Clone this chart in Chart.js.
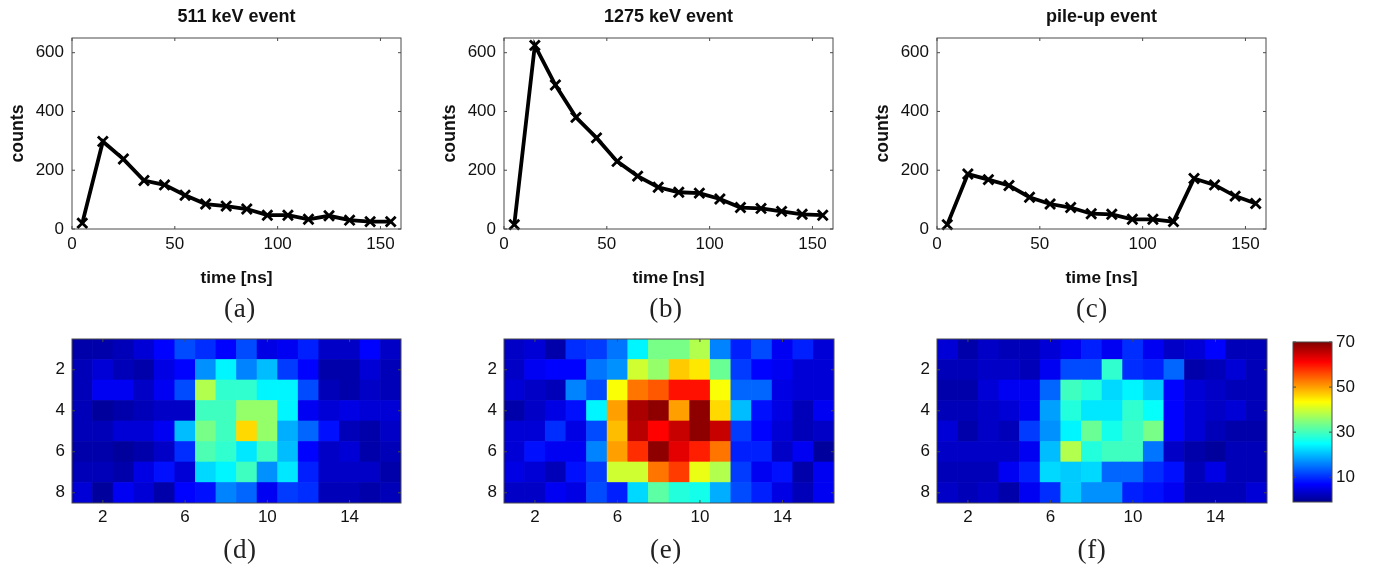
<!DOCTYPE html>
<html>
<head>
<meta charset="utf-8">
<title>event pulses and light maps</title>
<script src="https://cdn.jsdelivr.net/npm/chart.js@4"></script>
<style>
    html, body { margin: 0; padding: 0; background: #fff; }
    body { position: relative; width: 1373px; height: 567px; overflow: hidden; }
    canvas { position: absolute; filter: blur(0.5px); }
    .caption {
        position: absolute;
        transform: translate(-50%, -50%);
        font: 27px "Liberation Serif", serif;
        letter-spacing: 0.6px;
        color: #222;
    }
</style>
</head>
<body>
<script>
// pulse shapes
const timeNs = [5, 15, 25, 35, 45, 55, 65, 75, 85, 95, 105, 115, 125, 135, 145, 155];
const counts511 = [20, 298, 238, 165, 150, 115, 85, 78, 68, 47, 47, 33, 45, 30, 25, 25];
const counts1275 = [15, 625, 490, 380, 310, 230, 180, 142, 125, 122, 102, 73, 70, 60, 50, 47];
const countsPileUp = [15, 187, 168, 148, 108, 85, 73, 52, 50, 33, 33, 25, 172, 150, 112, 87];

// light maps, one row per line of the image (estimated from the jet colours)
const map511 = [
    [2, 2, 3, 5, 8, 13, 11, 8, 13, 6, 7, 10, 4, 4, 8, 4],
    [3, 5, 3, 2, 6, 8, 18, 25, 17, 21, 12, 8, 2, 2, 5, 3],
    [3, 7, 7, 4, 7, 13, 38, 29, 29, 25, 25, 13, 3, 2, 4, 3],
    [3, 1, 2, 3, 4, 4, 30, 30, 36, 36, 25, 7, 5, 6, 5, 5],
    [3, 3, 5, 5, 7, 21, 34, 30, 46, 36, 20, 15, 9, 3, 2, 4],
    [2, 2, 1, 2, 4, 11, 31, 29, 24, 30, 21, 8, 4, 5, 2, 3],
    [3, 3, 2, 6, 9, 5, 23, 25, 30, 18, 24, 10, 4, 4, 4, 2],
    [5, 1, 7, 5, 2, 8, 9, 17, 15, 7, 12, 11, 3, 3, 2, 3]
];
const map1275 = [
    [4, 5, 2, 11, 12, 16, 25, 34, 34, 38, 17, 10, 13, 7, 10, 5],
    [4, 7, 8, 8, 16, 18, 40, 36, 47, 45, 33, 12, 8, 7, 5, 5],
    [5, 4, 3, 17, 13, 43, 53, 55, 60, 60, 43, 15, 15, 6, 5, 5],
    [2, 4, 6, 9, 25, 50, 67, 69, 50, 69, 46, 21, 9, 6, 3, 7],
    [5, 5, 11, 6, 13, 48, 66, 61, 65, 69, 65, 12, 8, 5, 3, 4],
    [5, 9, 7, 7, 17, 50, 58, 69, 63, 59, 53, 10, 10, 4, 7, 1],
    [6, 5, 3, 9, 12, 40, 40, 53, 57, 42, 38, 12, 7, 9, 2, 7],
    [4, 4, 7, 6, 13, 10, 23, 32, 28, 27, 20, 13, 10, 6, 3, 7]
];
const mapPileUp = [
    [5, 2, 4, 3, 3, 5, 7, 10, 7, 11, 7, 4, 5, 8, 3, 3],
    [3, 3, 4, 4, 3, 7, 13, 13, 29, 11, 10, 15, 2, 3, 5, 3],
    [2, 2, 5, 7, 7, 15, 30, 28, 23, 25, 22, 8, 5, 4, 3, 3],
    [3, 3, 4, 5, 7, 19, 28, 24, 24, 29, 26, 8, 5, 4, 5, 3],
    [5, 2, 4, 3, 12, 18, 25, 33, 27, 30, 34, 8, 5, 3, 2, 2],
    [4, 4, 4, 4, 7, 21, 38, 28, 30, 30, 16, 4, 2, 1, 3, 3],
    [3, 3, 3, 7, 10, 23, 22, 23, 15, 15, 11, 9, 3, 6, 3, 3],
    [4, 3, 4, 2, 7, 11, 22, 18, 18, 10, 9, 7, 3, 3, 3, 5]
];

const pulseXTicks = [0, 50, 100, 150];
const pulseYTicks = [0, 200, 400, 600];
const mapXTicks = [2, 6, 10, 14];
const mapYTicks = [2, 4, 6, 8];
const colorTicks = [10, 30, 50, 70];
const colorRange = [-1, 70];
const jetStops = ['#00008f', '#0000ff', '#00ffff', '#7fff7f', '#ffff00', '#ff0000', '#7f0000'];
const jetOffsets = [0, 0.11, 0.365, 0.5, 0.625, 0.875, 1];

const textColor = '#111';
const frameColor = '#4a4a4a';

function jet(v) {
    const f = (v - colorRange[0]) / (colorRange[1] - colorRange[0]);
    const ch = c => Math.round(255 * Math.max(0, Math.min(1, 1.5 - Math.abs(4 * f - c))));
    return 'rgb(' + ch(3) + ',' + ch(2) + ',' + ch(1) + ')';
}

// MATLAB style box: frame plus short ticks pointing inward on all four sides
const matlabBox = {
    id: 'matlabBox',
    afterDraw(chart) {
        const { ctx, chartArea: a, scales } = chart;
        ctx.save();
        ctx.strokeStyle = frameColor;
        ctx.lineWidth = 1;
        ctx.beginPath();
        if (scales.x.options.display) {
            scales.x.ticks.forEach(t => {
                const px = scales.x.getPixelForValue(t.value);
                ctx.moveTo(px, a.bottom);
                ctx.lineTo(px, a.bottom - 3);
                ctx.moveTo(px, a.top);
                ctx.lineTo(px, a.top + 3);
            });
        }
        scales.y.ticks.forEach(t => {
            const py = scales.y.getPixelForValue(t.value);
            ctx.moveTo(a.left, py);
            ctx.lineTo(a.left + 3, py);
            ctx.moveTo(a.right, py);
            ctx.lineTo(a.right - 3, py);
        });
        ctx.stroke();
        ctx.strokeRect(a.left, a.top, a.right - a.left, a.bottom - a.top);
        ctx.restore();
    }
};

function addCanvas(left, top, width, height) {
    const c = document.createElement('canvas');
    c.width = width;
    c.height = height;
    c.style.left = left + 'px';
    c.style.top = top + 'px';
    c.style.width = width + 'px';
    c.style.height = height + 'px';
    document.body.appendChild(c);
    return c;
}

function addCaption(text, x, y) {
    const d = document.createElement('div');
    d.className = 'caption';
    d.textContent = text;
    d.style.left = x + 'px';
    d.style.top = y + 'px';
    document.body.appendChild(d);
}

function fixedTicks(list) {
    return scale => { scale.ticks = list.map(v => ({ value: v })); };
}

// pin the axis box so the plot area lands on the same pixels in every panel
function pinY(width) {
    return s => { s.width = width; s.paddingTop = 0; s.paddingBottom = 0; };
}

function pinX(height) {
    return s => { s.height = height; s.paddingLeft = 0; s.paddingRight = 0; };
}

function tickFont() {
    return { family: '"Liberation Sans", Arial, sans-serif', size: 17 };
}

function labelFont(size) {
    return { family: '"Liberation Sans", Arial, sans-serif', size: size, weight: 'bold' };
}

function drawPulse(plotLeft, titleText, values) {
    const canvas = addCanvas(plotLeft - 72, 0, 72 + 329 + 24, 291);
    new Chart(canvas.getContext('2d'), {
        type: 'line',
        plugins: [matlabBox],
        data: {
            datasets: [{
                data: values.map((v, i) => ({ x: timeNs[i], y: v })),
                borderColor: '#000',
                borderWidth: 3.8,
                tension: 0,
                clip: false,
                pointStyle: 'crossRot',
                pointRadius: 7,
                pointBorderColor: '#000',
                pointBorderWidth: 2.8
            }]
        },
        options: {
            responsive: false,
            animation: false,
            devicePixelRatio: 1,
            layout: { autoPadding: false, padding: { right: 24 } },
            plugins: {
                legend: { display: false },
                tooltip: { enabled: false },
                title: {
                    display: true,
                    fullSize: false,
                    text: titleText,
                    color: textColor,
                    font: labelFont(18),
                    padding: { top: 6.2, bottom: 10.2 }
                }
            },
            scales: {
                x: {
                    type: 'linear',
                    min: 0,
                    max: 160,
                    afterBuildTicks: fixedTicks(pulseXTicks),
                    afterFit: pinX(62),
                    grid: { display: false, drawTicks: false },
                    border: { display: false },
                    ticks: { color: textColor, font: tickFont(), padding: 5, maxRotation: 0 },
                    title: { display: true, text: 'time [ns]', color: textColor, font: labelFont(17.3), padding: { top: 0, bottom: 2.5 } }
                },
                y: {
                    min: 0,
                    max: 650,
                    afterBuildTicks: fixedTicks(pulseYTicks),
                    afterFit: pinY(72),
                    grid: { display: false, drawTicks: false },
                    border: { display: false },
                    ticks: { color: textColor, font: tickFont(), padding: 8 },
                    title: { display: true, text: 'counts', color: textColor, font: labelFont(17.7), padding: { top: 7, bottom: 0 } }
                }
            }
        }
    });
}

function drawMap(plotLeft, plotWidth, rows) {
    const cells = [];
    const colors = [];
    rows.forEach((row, r) => {
        row.forEach((v, c) => {
            cells.push({ x: c + 1, y: [r + 0.5, r + 1.5] });
            colors.push(jet(v));
        });
    });
    const canvas = addCanvas(plotLeft - 40, 329, 40 + plotWidth + 20, 10 + 164 + 40);
    new Chart(canvas.getContext('2d'), {
        type: 'bar',
        plugins: [matlabBox],
        data: {
            datasets: [{
                data: cells,
                backgroundColor: colors,
                barPercentage: 1,
                categoryPercentage: 1,
                borderWidth: 0
            }]
        },
        options: {
            responsive: false,
            animation: false,
            devicePixelRatio: 1,
            layout: { autoPadding: false, padding: { top: 10, right: 20 } },
            plugins: { legend: { display: false }, tooltip: { enabled: false } },
            scales: {
                x: {
                    type: 'linear',
                    min: 0.5,
                    max: 16.5,
                    offset: false,
                    afterBuildTicks: fixedTicks(mapXTicks),
                    afterFit: pinX(40),
                    grid: { display: false, drawTicks: false },
                    border: { display: false },
                    ticks: { color: textColor, font: tickFont(), padding: 4, maxRotation: 0 }
                },
                y: {
                    reverse: true,
                    min: 0.5,
                    max: 8.5,
                    afterBuildTicks: fixedTicks(mapYTicks),
                    afterFit: pinY(40),
                    grid: { display: false, drawTicks: false },
                    border: { display: false },
                    ticks: { color: textColor, font: tickFont(), padding: 7 }
                }
            }
        }
    });
}

function drawColorbar() {
    const canvas = addCanvas(1283, 329, 90, 10 + 160 + 20);
    new Chart(canvas.getContext('2d'), {
        type: 'bar',
        plugins: [matlabBox],
        data: {
            labels: [''],
            datasets: [{
                data: [colorRange],
                barPercentage: 1,
                categoryPercentage: 1,
                backgroundColor: ctx => {
                    const a = ctx.chart.chartArea;
                    if (!a) return jetStops[0];
                    const g = ctx.chart.ctx.createLinearGradient(0, a.bottom, 0, a.top);
                    jetStops.forEach((s, i) => g.addColorStop(jetOffsets[i], s));
                    return g;
                }
            }]
        },
        options: {
            responsive: false,
            animation: false,
            devicePixelRatio: 1,
            layout: { autoPadding: false, padding: { top: 13, bottom: 17, left: 10 } },
            plugins: { legend: { display: false }, tooltip: { enabled: false } },
            scales: {
                x: { display: false },
                y: {
                    position: 'right',
                    min: colorRange[0],
                    max: colorRange[1],
                    afterBuildTicks: fixedTicks(colorTicks),
                    afterFit: pinY(41),
                    grid: { display: false, drawTicks: false },
                    border: { display: false },
                    ticks: { color: textColor, font: tickFont(), padding: 4 }
                }
            }
        }
    });
}

drawPulse(72, '511 keV event', counts511);
drawPulse(504, '1275 keV event', counts1275);
drawPulse(937, 'pile-up event', countsPileUp);
drawMap(72, 329, map511);
drawMap(504, 330, map1275);
drawMap(937, 330, mapPileUp);
drawColorbar();

addCaption('(a)', 240, 308);
addCaption('(b)', 666, 308);
addCaption('(c)', 1092, 308);
addCaption('(d)', 240, 549);
addCaption('(e)', 666, 549);
addCaption('(f)', 1092, 549);
</script>
</body>
</html>
